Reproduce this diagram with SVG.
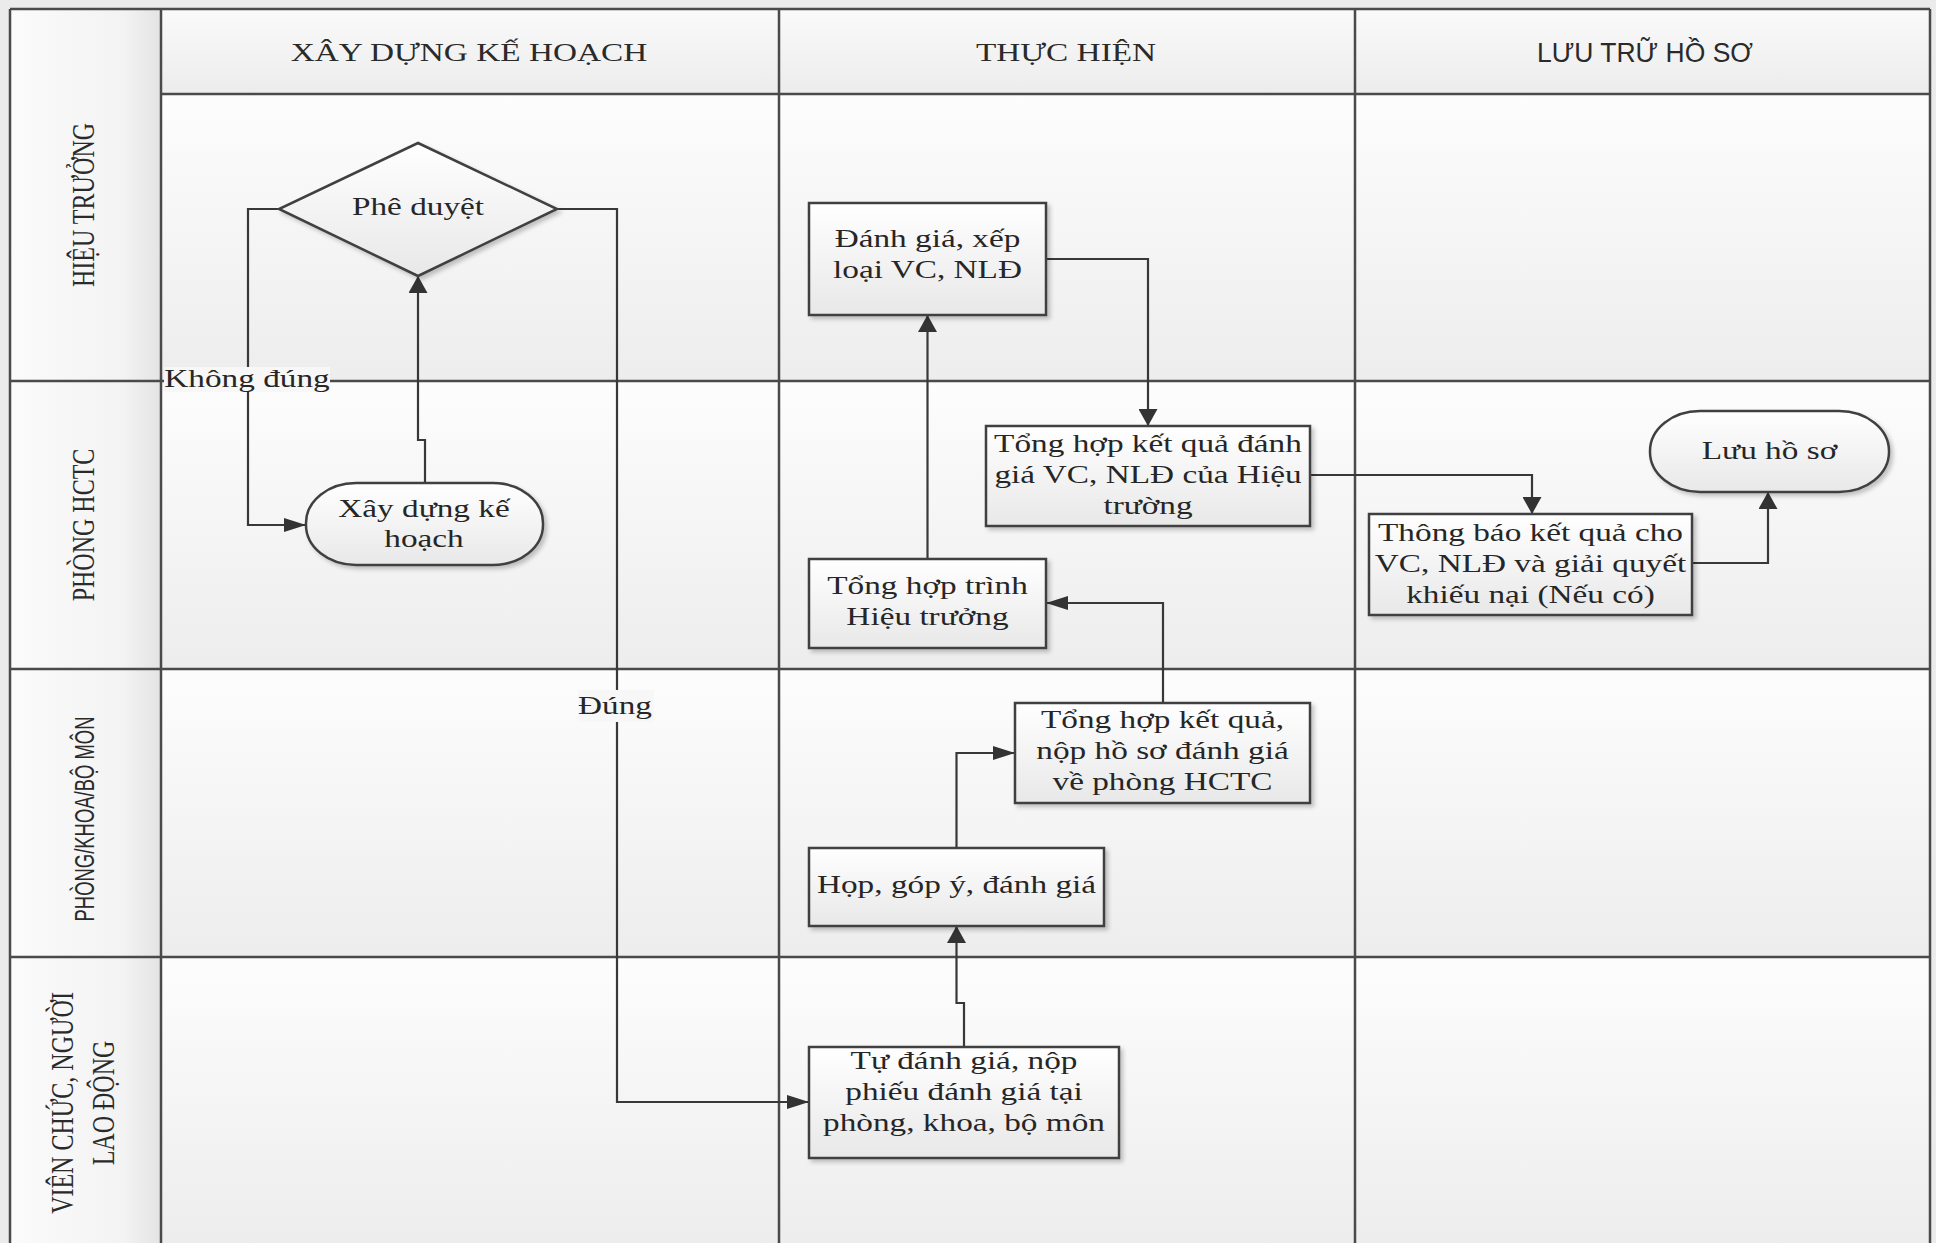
<svg xmlns="http://www.w3.org/2000/svg" width="1936" height="1243" viewBox="0 0 1936 1243">
<defs>
<style>
.grid{stroke:#4a4a4a;stroke-width:2.5;fill:none}
.box{fill:url(#gBox);stroke:#404040;stroke-width:2.5;filter:url(#sh)}
.con{fill:none;stroke:#383838;stroke-width:2.2}
.t{font-family:"Liberation Serif","Times New Roman",serif;font-size:26px;fill:#262626;text-anchor:middle}
.h{font-family:"Liberation Serif","Times New Roman",serif;font-size:24px;fill:#2a2a2a;text-anchor:middle}
.hd{font-family:"Liberation Serif","Times New Roman",serif;font-size:26px;fill:#2a2a2a;text-anchor:middle}
.s{font-family:"Liberation Sans",Arial,sans-serif;fill:#2a2a2a;text-anchor:middle}
.lblbg{fill:#f7f7f7}
</style>
<linearGradient id="gCell" x1="0" y1="0" x2="0" y2="1"><stop offset="0" stop-color="#fdfdfd"/><stop offset="1" stop-color="#ededed"/></linearGradient>
<linearGradient id="gHead" x1="0" y1="0" x2="0" y2="1"><stop offset="0" stop-color="#fafafa"/><stop offset="1" stop-color="#ececec"/></linearGradient>
<linearGradient id="gLane" x1="0" y1="0" x2="1" y2="0"><stop offset="0" stop-color="#fbfbfb"/><stop offset="0.75" stop-color="#f3f3f3"/><stop offset="1" stop-color="#e4e4e4"/></linearGradient>
<linearGradient id="gBox" x1="0" y1="0" x2="0" y2="1"><stop offset="0" stop-color="#ffffff"/><stop offset="1" stop-color="#e8e8e8"/></linearGradient>
<filter id="sh" x="-10%" y="-10%" width="130%" height="130%"><feDropShadow dx="3" dy="3" stdDeviation="2" flood-color="#000" flood-opacity="0.22"/></filter>
<marker id="aH" markerUnits="userSpaceOnUse" markerWidth="22" markerHeight="14" viewBox="0 0 22 14" refX="22" refY="7" orient="auto"><path d="M0,0L22,7L0,14z" fill="#333"/></marker>
<marker id="aV" markerUnits="userSpaceOnUse" markerWidth="17" markerHeight="19" viewBox="0 0 17 19" refX="17" refY="9.5" orient="auto"><path d="M0,0L17,9.5L0,19z" fill="#333"/></marker>
</defs>

<g id="table">
<rect x="0" y="0" width="1936" height="1243" fill="#ebebeb"/>
<rect x="161" y="9" width="1769" height="85" fill="url(#gHead)"/>
<rect x="161" y="94" width="1769" height="287" fill="url(#gCell)"/>
<rect x="161" y="381" width="1769" height="288" fill="url(#gCell)"/>
<rect x="161" y="669" width="1769" height="288" fill="url(#gCell)"/>
<rect x="161" y="957" width="1769" height="286" fill="url(#gCell)"/>
<rect x="10" y="9" width="151" height="1234" fill="url(#gLane)"/>
<path class="grid" d="M10,9H1930M10,9V1243M161,9V1243M779,9V1243M1355,9V1243M1930,9V1243M161,94H1930M10,381H1930M10,669H1930M10,957H1930"/>
<text class="hd" transform="translate(469,61) scale(1.28,1)">XÂY DỰNG KẾ HOẠCH</text>
<text class="hd" transform="translate(1066,61) scale(1.28,1)">THỰC HIỆN</text>
<text class="s" x="1645" y="62" font-size="27" textLength="216" lengthAdjust="spacingAndGlyphs">LƯU TRỮ HỒ SƠ</text>
<text class="h" font-size="23" transform="translate(94,205) rotate(-90) scale(1,1.28)">HIỆU TRƯỞNG</text>
<text class="h" transform="translate(94,525) rotate(-90) scale(1,1.28)">PHÒNG HCTC</text>
<text class="s" font-size="23" transform="translate(94,819) rotate(-90) scale(1,1.22)" textLength="205" lengthAdjust="spacingAndGlyphs">PHÒNG/KHOA/BỘ MÔN</text>
<text class="h" transform="translate(73,1103) rotate(-90) scale(1,1.28)"><tspan x="0">VIÊN CHỨC, NGƯỜI</tspan><tspan x="0" dy="32">LAO ĐỘNG</tspan></text>
</g>

<g id="connectors">
<path class="con" d="M279,209H248V525H306" marker-end="url(#aH)"/>
<path class="con" d="M425,483V440H418V276" marker-end="url(#aV)"/>
<path class="con" d="M557,209H617V1102H809" marker-end="url(#aH)"/>
<path class="con" d="M964,1047V1003H956.5V926" marker-end="url(#aV)"/>
<path class="con" d="M956.5,848V753H1015" marker-end="url(#aH)"/>
<path class="con" d="M1163,703V603H1046" marker-end="url(#aH)"/>
<path class="con" d="M927.5,559V315" marker-end="url(#aV)"/>
<path class="con" d="M1046,259H1148V426" marker-end="url(#aV)"/>
<path class="con" d="M1310,475H1532V514" marker-end="url(#aV)"/>
<path class="con" d="M1692,563H1768V492" marker-end="url(#aV)"/>
<g id="label-khong-dung">
<rect class="lblbg" x="164" y="367" width="166" height="25"/>
<text class="t" font-size="25" transform="translate(247,387) scale(1.28,1)">Không đúng</text>
</g>
<g id="label-dung">
<rect class="lblbg" x="578" y="690" width="76" height="32"/>
<text class="t" font-size="25" transform="translate(615,714) scale(1.28,1)">Đúng</text>
</g>
</g>

<g id="node-phe-duyet">
<polygon class="box" points="418,143 557,209 418,276 279,209"/>
<text class="t" transform="translate(418,215) scale(1.28,1)">Phê duyệt</text>
</g>
<g id="node-xay-dung">
<rect class="box" x="306" y="483" width="237" height="82" rx="50" ry="40"/>
<text class="t" transform="translate(424,517) scale(1.28,1)"><tspan x="0">Xây dựng kế</tspan><tspan x="0" dy="30">hoạch</tspan></text>
</g>
<g id="node-danh-gia">
<rect class="box" x="809" y="203" width="237" height="112"/>
<text class="t" transform="translate(927.5,247) scale(1.28,1)"><tspan x="0">Đánh giá, xếp</tspan><tspan x="0" dy="31">loại VC, NLĐ</tspan></text>
</g>
<g id="node-tong-hop-ht">
<rect class="box" x="986" y="426" width="324" height="100"/>
<text class="t" transform="translate(1148,452) scale(1.28,1)"><tspan x="0">Tổng hợp kết quả đánh</tspan><tspan x="0" dy="31">giá VC, NLĐ của Hiệu</tspan><tspan x="0" dy="31">trường</tspan></text>
</g>
<g id="node-tong-hop-trinh">
<rect class="box" x="809" y="559" width="237" height="89"/>
<text class="t" transform="translate(927.5,594) scale(1.28,1)"><tspan x="0">Tổng hợp trình</tspan><tspan x="0" dy="31">Hiệu trưởng</tspan></text>
</g>
<g id="node-thong-bao">
<rect class="box" x="1369" y="514" width="323" height="101"/>
<text class="t" transform="translate(1530.5,541) scale(1.28,1)"><tspan x="0">Thông báo kết quả cho</tspan><tspan x="0" dy="31">VC, NLĐ và giải quyết</tspan><tspan x="0" dy="31">khiếu nại (Nếu có)</tspan></text>
</g>
<g id="node-luu-ho-so">
<rect class="box" x="1650" y="411" width="239" height="81" rx="50" ry="40"/>
<text class="t" transform="translate(1769.5,459) scale(1.28,1)">Lưu hồ sơ</text>
</g>
<g id="node-tong-hop-kq">
<rect class="box" x="1015" y="703" width="295" height="100"/>
<text class="t" transform="translate(1162.5,728) scale(1.28,1)"><tspan x="0">Tổng hợp kết quả,</tspan><tspan x="0" dy="31">nộp hồ sơ đánh giá</tspan><tspan x="0" dy="31">về phòng HCTC</tspan></text>
</g>
<g id="node-hop">
<rect class="box" x="809" y="848" width="295" height="78"/>
<text class="t" transform="translate(956.5,893) scale(1.28,1)">Họp, góp ý, đánh giá</text>
</g>
<g id="node-tu-danh-gia">
<rect class="box" x="809" y="1047" width="310" height="111"/>
<text class="t" transform="translate(964,1069) scale(1.28,1)"><tspan x="0">Tự đánh giá, nộp</tspan><tspan x="0" dy="31">phiếu đánh giá tại</tspan><tspan x="0" dy="31">phòng, khoa, bộ môn</tspan></text>
</g>
</svg>
